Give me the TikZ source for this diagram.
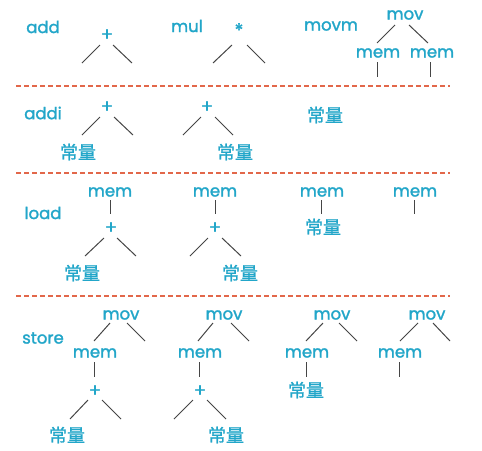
\documentclass[tikz,border=0pt]{standalone}
\usepackage{fontspec}
\setmainfont{Poppins}
\newfontfamily\lat[FakeBold=1.6]{Poppins}
\newfontfamily\cjk[FakeBold=1.2]{Noto Sans CJK SC}
\definecolor{tc}{HTML}{22A6C9}
\definecolor{lc}{HTML}{454545}
\definecolor{dc}{HTML}{E2674A}
\tikzset{
  lab/.style={text=tc, font=\lat\fontsize{16.5}{16.5}\selectfont, inner sep=0pt},
  opr/.style={text=tc, font=\lat\fontsize{18}{18}\selectfont, inner sep=0pt},
  cj/.style={text=tc, font=\cjk\fontsize{18}{18}\selectfont, inner sep=0pt},
  edge/.style={draw=lc, line width=1pt},
  sepline/.style={draw=dc, line width=1.4pt, dash pattern=on 4.5pt off 3.5pt},
}
\newcommand{\seg}[5]{\coordinate (#1a) at (#2,#3); \coordinate (#1b) at (#4,#5); \draw[edge] (#1a) -- (#1b);}
\begin{document}
\begin{tikzpicture}[x=1pt,y=-1pt]
\useasboundingbox[fill=white] (0,0) rectangle (482,450);
% separators
\foreach \yy/\nn in {86/s1,173/s2,296/s3}{
  \coordinate (\nn a) at (16,\yy); \coordinate (\nn b) at (450,\yy);
  \draw[sepline] (\nn a) -- (\nn b);
}
% ---------- row 1
\node[lab] (add) at (43,27) {add};
\node[opr] (p1) at (107,35) {+};
\seg{e1}{100}{45}{82}{63}
\seg{e2}{113}{45}{132}{63}
\node[lab] (mul) at (187,26) {mul};
\node[opr] (st1) at (239,30) {*};
\seg{e3}{232}{45}{213}{63}
\seg{e4}{247}{45}{265}{63}
\node[lab] (movm) at (331,26) {movm};
\node[lab] (mv1) at (405,15) {mov};
\seg{e5}{395}{25}{377}{43}
\seg{e6}{409}{25}{428}{43}
\node[lab] (mm1) at (378,53) {mem};
\node[lab] (mm2) at (432,53) {mem};
\seg{e7}{377}{62}{377}{77}
\seg{e8}{430}{62}{430}{77}
% ---------- row 2
\node[lab] (addi) at (43,113) {addi};
\node[opr] (p2) at (107,107) {+};
\seg{f1}{100}{117}{82}{135}
\seg{f2}{114}{117}{133}{135}
\node[cj] (c1) at (78,152) {常量};
\node[opr] (p3) at (207,107) {+};
\seg{f3}{201}{117}{183}{135}
\seg{f4}{215}{117}{233}{135}
\node[cj] (c2) at (235,152) {常量};
\node[cj] (c3) at (325,115) {常量};
% ---------- row 3
\node[lab] (load) at (43,213) {load};
\node[lab] (m3a) at (110,192) {mem};
\seg{g1}{110}{200}{110}{214}
\node[opr] (p4) at (111,228) {+};
\seg{g2}{104}{238}{85}{256}
\seg{g3}{117}{238}{136}{256}
\node[cj] (c4) at (82,273) {常量};
\node[lab] (m3b) at (215,192) {mem};
\seg{g4}{215}{200}{215}{214}
\node[opr] (p5) at (215,228) {+};
\seg{g5}{208}{238}{190}{256}
\seg{g6}{222}{238}{241}{256}
\node[cj] (c5) at (240,273) {常量};
\node[lab] (m3c) at (322,192) {mem};
\seg{g7}{321}{200}{321}{214}
\node[cj] (c6) at (323,227) {常量};
\node[lab] (m3d) at (415,192) {mem};
\seg{g8}{414}{200}{414}{214}
% ---------- row 4
\node[lab] (store) at (43,338) {store};
\node[lab] (v1) at (121,315) {mov};
\seg{h1}{110}{323}{94}{341}
\seg{h2}{127}{323}{145}{341}
\node[lab] (n1) at (95,353) {mem};
\seg{h3}{94}{362}{94}{377}
\node[opr] (p6) at (95,391) {+};
\seg{h4}{88}{400}{70}{419}
\seg{h5}{102}{400}{121}{419}
\node[cj] (c7) at (67,435) {常量};
\node[lab] (v2) at (224,315) {mov};
\seg{h6}{213}{323}{198}{341}
\seg{h7}{231}{323}{249}{341}
\node[lab] (n2) at (200,353) {mem};
\seg{h8}{199}{362}{199}{377}
\node[opr] (p7) at (200,391) {+};
\seg{h9}{193}{400}{174}{419}
\seg{h10}{207}{400}{226}{419}
\node[cj] (c8) at (226,435) {常量};
\node[lab] (v3) at (332,315) {mov};
\seg{h11}{323}{323}{306}{341}
\seg{h12}{339}{323}{357}{341}
\node[lab] (n3) at (307,353) {mem};
\seg{h13}{306}{362}{306}{377}
\node[cj] (c9) at (306,390) {常量};
\node[lab] (v4) at (427,315) {mov};
\seg{h14}{418}{323}{400}{341}
\seg{h15}{433}{323}{450}{341}
\node[lab] (n4) at (400,353) {mem};
\seg{h16}{399}{362}{399}{377}
\end{tikzpicture}
\end{document}
